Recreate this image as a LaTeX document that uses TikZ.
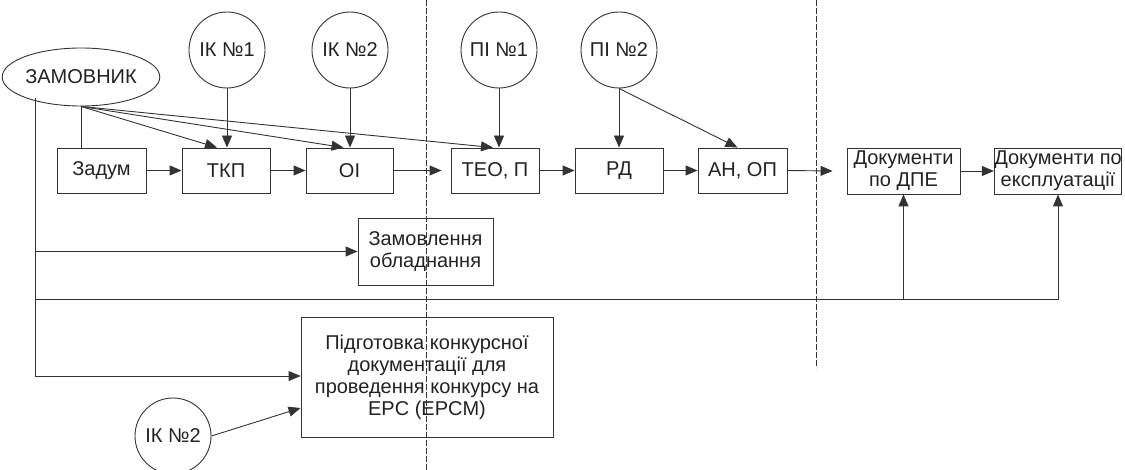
\documentclass[tikz,border=0pt]{standalone}
\usepackage{fontspec}
\setmainfont{Liberation Sans}
\usetikzlibrary{arrows.meta,shapes.geometric}
\definecolor{ln}{HTML}{333333}
\definecolor{tx}{HTML}{222222}
\begin{document}
\begin{tikzpicture}[x=1pt,y=-1pt,
  every node/.style={font=\fontsize{20}{22}\selectfont, text=tx, inner sep=0pt},
  ln/.style={draw=ln, line width=0.9pt},
  arr/.style={ln, -{Triangle[length=12pt,width=10pt]}},
  boxn/.style={ln, rectangle, align=center},
  circ/.style={ln, circle, minimum size=76pt},
  sep/.style={draw=ln, line width=0.9pt, dash pattern=on 6pt off 2pt}
]
\useasboundingbox (0,0) rectangle (1125,470);
% separators
\coordinate (s1t) at (426,0);
\coordinate (s1b) at (426,470);
\coordinate (s2t) at (816,0);
\coordinate (s2b) at (816,368);
\draw[sep] (s1t) -- (s1b);
\draw[sep] (s2t) -- (s2b);
% nodes
\node[ln, ellipse, minimum width=142pt, minimum height=58pt] (zam) at (81,77) {ЗАМОВНИК};
\node[circ] (ik1) at (227,50) {ІК №1};
\node[circ] (ik2) at (350,50) {ІК №2};
\node[circ] (pi1) at (499,50) {ПІ №1};
\node[circ] (pi2) at (619,50) {ПІ №2};
\node[boxn, minimum width=89pt, minimum height=45pt] (zadum) at (101.5,170.5) {Задум};
\node[boxn, minimum width=88pt, minimum height=45pt] (tkp) at (226,170.5) {ТКП};
\node[boxn, minimum width=87pt, minimum height=45pt] (oi) at (349.5,170.5) {ОІ};
\node[boxn, minimum width=88pt, minimum height=45pt] (teo) at (495,170.5) {ТЕО, П};
\node[boxn, minimum width=88pt, minimum height=45pt] (rd) at (619,170.5) {РД};
\node[boxn, minimum width=89pt, minimum height=45pt] (an) at (742.5,170.5) {АН, ОП};
\node[boxn, minimum width=113pt, minimum height=46pt] (dpe) at (903.5,171) {Документи\\по ДПЕ};
\node[boxn, minimum width=126pt, minimum height=46pt] (exp) at (1058,171) {Документи по\\експлуатації};
\node[boxn, minimum width=135pt, minimum height=67pt] (zob) at (425.5,251.5) {Замовлення\\обладнання};
\node[boxn, minimum width=252pt, minimum height=120pt] (pidg) at (427,377) {Підготовка конкурсної\\документації для\\проведення конкурсу на\\EPC (EPCM)};
\node[circ] (ik2b) at (173,436) {ІК №2};
% customer links
\draw[ln] (zam.south) -- (zam.south |- zadum.north);
\draw[arr] (zam.south) -- ([xshift=-9pt]tkp.north);
\draw[arr] (zam.south) -- ([xshift=-6pt]oi.north);
\draw[arr] (zam.south) -- ([xshift=-2pt]teo.north);
% consultants / designers
\draw[arr] (ik1.south) -- (ik1.south |- tkp.north);
\draw[arr] (ik2.south) -- (ik2.south |- oi.north);
\draw[arr] (pi1.south) -- (pi1.south |- teo.north);
\draw[arr] (pi2.south) -- (pi2.south |- rd.north);
\draw[arr] (pi2.south) -- ([xshift=-5pt]an.north);
% main chain
\draw[arr] (zadum.east) -- (tkp.west);
\draw[arr] (tkp.east) -- (oi.west);
\draw[arr] (oi.east) -- ([xshift=-9pt]teo.west);
\draw[arr] (teo.east) -- (rd.west);
\draw[arr] (rd.east) -- (an.west);
\draw[arr] (an.east) -- ([xshift=-14pt]dpe.west);
\draw[arr] (dpe.east) -- (exp.west);
% trunk
\coordinate (trunk) at (35,376);
\coordinate (h) at (35,299);
\draw[arr] (trunk |- zam.south west) -- (trunk) -- (pidg.west |- trunk);
\draw[arr] (trunk |- zob.west) -- (zob.west);
\draw[arr] (h) -| (exp.south);
\draw[arr] (h -| dpe.south) -- (dpe.south);
\draw[arr] (ik2b.east) -- ([yshift=-31pt]pidg.west);
\end{tikzpicture}
\end{document}
